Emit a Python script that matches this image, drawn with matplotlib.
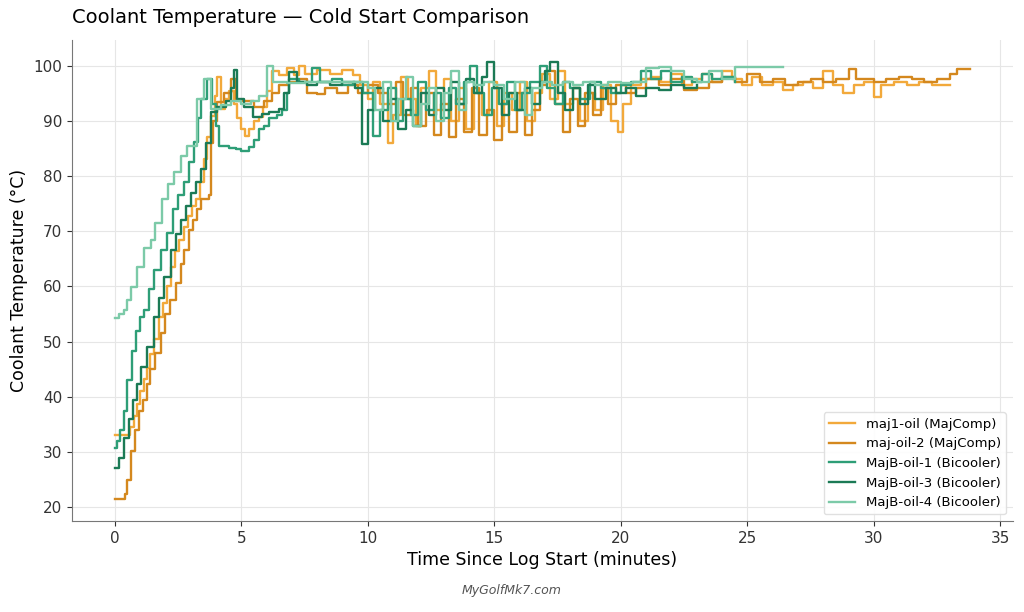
import matplotlib
matplotlib.use("Agg")
import matplotlib.pyplot as plt

# (minutes, degC)
maj1_oil = [(0, 33.1), (0.55, 33.1), (0.62, 34.5), (0.75, 36.5), (0.87, 38.8), (1.0, 41), (1.15, 43.2),
            (1.27, 45.3), (1.4, 47.8), (1.55, 50.5), (1.75, 54.4), (1.9, 57), (2.05, 60), (2.22, 63.6),
            (2.4, 66.5), (2.55, 68.5), (2.74, 70.8), (2.9, 72.8), (3.05, 74.5), (3.2, 75.8), (3.35, 79),
            (3.53, 83), (3.65, 87), (3.81, 90.9), (3.95, 94.5), (4.05, 98), (4.2, 92.2), (4.35, 94),
            (4.5, 95.4), (4.7, 93), (4.85, 90.5), (5.0, 88.5), (5.15, 87.2), (5.3, 88.5), (5.5, 90),
            (5.7, 90.7), (5.85, 92.5), (6.0, 95.3), (6.2, 99), (6.5, 98.2), (6.8, 99.5), (7.1, 98.3),
            (7.3, 100), (7.5, 98.5), (8.0, 99.2), (8.5, 98.5), (9.0, 99.2), (9.4, 98.2), (9.7, 96.5),
            (10.0, 94), (10.2, 97), (10.5, 93), (10.8, 86), (11.0, 91), (11.3, 98), (11.6, 94), (11.9, 89),
            (12.1, 96), (12.4, 99), (12.7, 92), (13.0, 97.5), (13.3, 90), (13.6, 96), (13.9, 88.5),
            (14.2, 95), (14.5, 91), (14.8, 97), (15.1, 89), (15.4, 95), (15.7, 92), (16.0, 97), (16.3, 90),
            (16.6, 95), (16.9, 98.5), (17.2, 94), (17.5, 99), (17.8, 93), (18.1, 96), (18.4, 90), (18.7, 95),
            (19.0, 92), (19.3, 96.5), (19.6, 90), (19.9, 88), (20.1, 93), (20.4, 96.5), (20.8, 97.5),
            (21.2, 98), (21.6, 97), (22.0, 98.5), (22.4, 96.5), (22.8, 97.5), (23.2, 98.5), (23.6, 97),
            (24.0, 99), (24.4, 97.5), (24.8, 96.5), (25.2, 98), (25.6, 96.5), (26.0, 97), (26.4, 95.5),
            (26.8, 96.5), (27.2, 97), (27.6, 96), (28.0, 99), (28.4, 96.5), (28.8, 95), (29.2, 96.5),
            (29.6, 97), (30.0, 94.3), (30.3, 96.5), (30.8, 97), (31.3, 96.5), (31.8, 97), (32.3, 96.5),
            (33.0, 96.5)]

maj_oil_2 = [(0, 21.5), (0.3, 21.5), (0.4, 22.5), (0.5, 25), (0.63, 30.2), (0.8, 34), (0.95, 37.5),
             (1.1, 39.5), (1.27, 42.4), (1.4, 45), (1.6, 48), (1.83, 51.5), (2.0, 55), (2.2, 57.5),
             (2.42, 60.6), (2.6, 64), (2.74, 66.6), (2.94, 70.3), (3.1, 72), (3.25, 74), (3.41, 75.8),
             (3.73, 76.5), (3.8, 86), (3.9, 90), (4.05, 93.4), (4.3, 95), (4.6, 97.6), (4.8, 93.6),
             (5.2, 93.6), (5.5, 92.5), (5.9, 93.6), (6.2, 95), (6.5, 96.5), (6.9, 97), (7.3, 97.5),
             (7.6, 95), (8.0, 94.8), (8.3, 96), (8.8, 95), (9.2, 96.5), (9.6, 95), (10.0, 96.5),
             (10.4, 95), (10.8, 93), (11.1, 97), (11.4, 91), (11.7, 96), (12.0, 89), (12.3, 95),
             (12.6, 87.5), (12.9, 93), (13.2, 87), (13.5, 94), (13.8, 88), (14.1, 96), (14.4, 87.5),
             (14.7, 92), (15.0, 86.5), (15.3, 93), (15.6, 88), (15.9, 95), (16.2, 87.5), (16.5, 92),
             (16.8, 96.5), (17.1, 99), (17.4, 93), (17.7, 88), (18.0, 94), (18.3, 89), (18.6, 95),
             (18.9, 91), (19.2, 96), (19.5, 93), (19.8, 96.5), (20.2, 95), (20.6, 96), (21.0, 97.5),
             (21.5, 96.5), (22.0, 97.5), (22.5, 95.5), (23.0, 96), (23.5, 97), (24.0, 98), (24.5, 97),
             (25.0, 98.5), (25.5, 97), (26.0, 97.5), (26.5, 96.5), (27.0, 97), (27.5, 97.5), (28.0, 97),
             (28.5, 97.5), (29.0, 99.3), (29.3, 97.5), (30.0, 97), (30.5, 97.5), (31.0, 98), (31.5, 97.5),
             (32.0, 97), (32.5, 97.5), (33.0, 98.5), (33.3, 99.3), (33.8, 99.3)]

majb_oil_1 = [(0, 30.8), (0.1, 32), (0.2, 34), (0.36, 37.5), (0.5, 43), (0.67, 48.4), (0.85, 52),
              (1.0, 54.5), (1.15, 55.7), (1.35, 59.5), (1.55, 63), (1.83, 66.6), (2.06, 69.7), (2.3, 74),
              (2.5, 76.5), (2.74, 78.9), (2.95, 82.5), (3.13, 86.1), (3.3, 90.5), (3.41, 94), (3.65, 97.6),
              (3.85, 93), (4.0, 89), (4.13, 85.4), (4.5, 85), (4.8, 84.8), (5.0, 84.6), (5.3, 85.2),
              (5.5, 86.5), (5.7, 88.5), (5.9, 89), (6.1, 90.5), (6.4, 91), (6.6, 92), (6.8, 95),
              (6.9, 97.6), (7.3, 97), (7.8, 99.5), (8.1, 97), (8.6, 97.5), (9.0, 96.5), (9.4, 97),
              (9.8, 95), (10.2, 87.2), (10.5, 92), (10.8, 96), (11.1, 90), (11.4, 94), (11.7, 91),
              (12.0, 97), (12.3, 92), (12.6, 95), (12.9, 90.5), (13.2, 96), (13.5, 93), (13.8, 97),
              (14.05, 100), (14.3, 95), (14.6, 91), (14.9, 96), (15.2, 93), (15.5, 97), (15.8, 92),
              (16.1, 95), (16.4, 97), (16.8, 100), (17.1, 96), (17.4, 93), (17.7, 97), (18.0, 96),
              (18.4, 94), (18.8, 97), (19.2, 96), (19.6, 95), (20.0, 96.5), (20.4, 97), (20.8, 99),
              (21.2, 97.5), (21.6, 99), (22.0, 97), (22.4, 98), (22.8, 97), (23.2, 98.5), (23.6, 97.5),
              (24.0, 98), (24.5, 97)]

majb_oil_3 = [(0, 27.1), (0.15, 29), (0.36, 32.6), (0.55, 36), (0.72, 39.5), (0.87, 42.4), (1.05, 45.5),
              (1.27, 49), (1.55, 54.4), (1.75, 58), (1.94, 61.7), (2.22, 66.6), (2.42, 69.5), (2.62, 72.1),
              (2.8, 74.5), (3.0, 77), (3.2, 79), (3.41, 81.2), (3.6, 86), (3.81, 91.6), (4.05, 92.5),
              (4.4, 93.5), (4.6, 96), (4.72, 99.1), (4.85, 94), (5.1, 92.5), (5.45, 90.7), (5.8, 91.2),
              (6.1, 91.5), (6.5, 92.2), (6.7, 95), (6.9, 98.9), (7.2, 97), (7.6, 96.5), (8.0, 97),
              (8.5, 96.5), (9.0, 97), (9.5, 96), (9.76, 85.8), (10.0, 92), (10.3, 96), (10.6, 90),
              (10.9, 94), (11.2, 88.5), (11.5, 92), (11.8, 89), (12.1, 95), (12.4, 91), (12.7, 96),
              (13.0, 92), (13.3, 97), (13.6, 93), (13.9, 97.5), (14.2, 95), (14.5, 98), (14.7, 100.7),
              (15.0, 96), (15.3, 91), (15.6, 95), (15.9, 92), (16.2, 96), (16.5, 93), (16.8, 97),
              (17.0, 99), (17.2, 100.7), (17.5, 95), (17.8, 92), (18.1, 96), (18.4, 93), (18.7, 96.5),
              (19.0, 94), (19.4, 96), (19.8, 95), (20.2, 96), (20.6, 94.5), (21.0, 96), (21.5, 95.5),
              (22.0, 96.5), (22.5, 96), (23.0, 96.5)]

majb_oil_4 = [(0, 54.3), (0.15, 55), (0.36, 55.7), (0.5, 57.5), (0.63, 59.9), (0.87, 63.6), (1.15, 66.9),
              (1.42, 68.5), (1.6, 71.5), (1.86, 75.8), (2.1, 78.5), (2.34, 80.7), (2.62, 83.6), (2.86, 85.4),
              (3.1, 85.5), (3.25, 94), (3.53, 97.6), (3.8, 92.2), (4.2, 92.8), (4.6, 93.5), (5.0, 93),
              (5.4, 93.5), (5.7, 94.5), (6.0, 100), (6.25, 97), (6.8, 96.8), (7.5, 97), (8.5, 97),
              (9.5, 97), (10.0, 96), (10.3, 92), (10.6, 97), (10.9, 90), (11.2, 94), (11.5, 98),
              (11.8, 89), (12.1, 93), (12.4, 96), (12.7, 90), (13.0, 95), (13.3, 99), (13.6, 92),
              (13.9, 97), (14.2, 96.5), (14.6, 97), (15.0, 96.5), (15.4, 94), (15.8, 97), (16.2, 91),
              (16.5, 96), (16.9, 97), (17.3, 96.5), (17.7, 97), (18.1, 96.5), (18.5, 97), (19.0, 96.5),
              (19.5, 97), (20.0, 96.8), (20.5, 97), (21.0, 99.5), (21.5, 99.8), (22.0, 99), (22.5, 97.5),
              (23.0, 97), (23.5, 99), (24.0, 97.5), (24.5, 99.7), (26.4, 99.7)]

series = [
    ("maj1-oil (MajComp)", maj1_oil, "#F2A93B"),
    ("maj-oil-2 (MajComp)", maj_oil_2, "#D4881E"),
    ("MajB-oil-1 (Bicooler)", majb_oil_1, "#2E9E77"),
    ("MajB-oil-3 (Bicooler)", majb_oil_3, "#1B7A55"),
    ("MajB-oil-4 (Bicooler)", majb_oil_4, "#7CCAA8"),
]

fig = plt.figure(figsize=(10.24, 6.12), dpi=100)
ax = fig.add_axes([0.0703, 0.1487, 0.9187, 0.7863])

for label, pts, color in series:
    t, temp = zip(*pts)
    ax.plot(t, temp, drawstyle="steps-post", color=color, lw=1.7, label=label)

ax.set_title("Coolant Temperature \u2014 Cold Start Comparison", loc="left", fontsize=14, pad=12)
ax.set_xlabel("Time Since Log Start (minutes)", fontsize=12.5)
ax.set_ylabel("Coolant Temperature (\u00b0C)", fontsize=12.5)
ax.tick_params(labelsize=11, colors="#333333")
ax.grid(True, color="#e6e6e6", lw=0.8)
ax.set_axisbelow(True)
for s in ("top", "right"):
    ax.spines[s].set_visible(False)
for s in ("left", "bottom"):
    ax.spines[s].set_color("#777777")

leg = ax.legend(loc="lower right", fontsize=9.5, framealpha=0.9, edgecolor="#dddddd")

fig.text(0.5, 0.03, "MyGolfMk7.com", ha="center", fontsize=9, style="italic", color="#555555")

fig.savefig("out.png", dpi=100)
